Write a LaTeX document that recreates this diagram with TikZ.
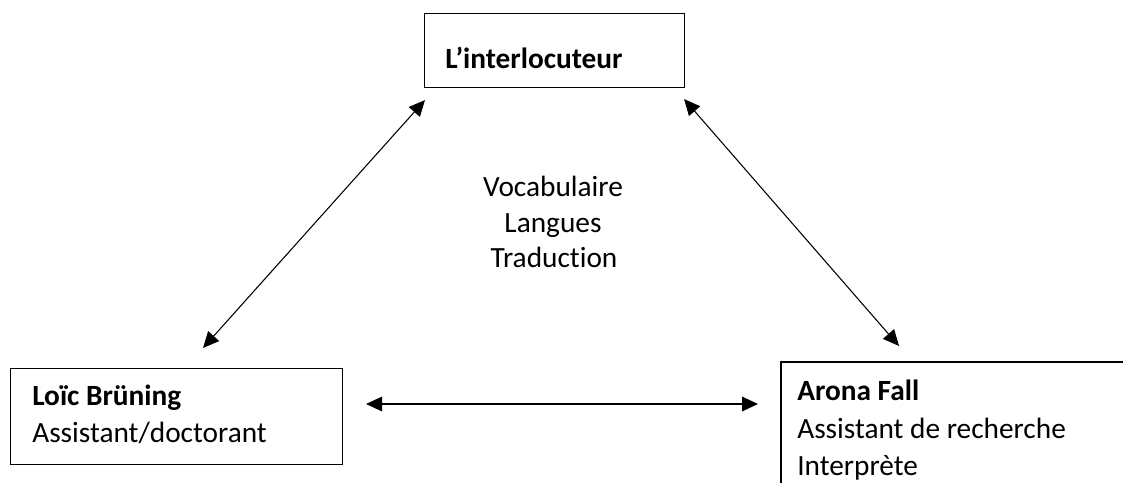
\documentclass[tikz,border=0pt]{standalone}
\usepackage{fontspec}
\setmainfont{Carlito}[Ligatures=NoCommon]
\usetikzlibrary{arrows.meta,calc}
\begin{document}
\begin{tikzpicture}[x=0.75pt,y=-0.75pt,
  boxnode/.style={draw=black,line width=0.8pt,rectangle,inner sep=0pt,anchor=north west},
  txt/.style={anchor=base west,inner sep=0pt,font=\fontsize{22pt}{27pt}\selectfont},
  ctxt/.style={anchor=base,inner sep=0pt,font=\fontsize{22pt}{27pt}\selectfont},
  link/.style={line width=0.8pt,{Triangle[length=12pt,width=11pt]}-{Triangle[length=12pt,width=11pt]}}]
\useasboundingbox (0,0) rectangle (1123,482);
% boxes
\node[boxnode,minimum width=195pt,minimum height=55.5pt] (top) at (424,13) {};
\node[boxnode,minimum width=249pt,minimum height=72pt] (lb) at (10,368) {};
\node[rectangle,inner sep=0pt,anchor=north west,minimum width=256.5pt,minimum height=90pt] (rb) at (781,362) {};
\draw[line width=0.8pt] (rb.north east) -- (rb.north west) -- (rb.south west);
% texts
\node[txt] (ttop) at (445,68) {\bfseries L’interlocuteur};
\node[txt] (tl1) at (32,405) {\bfseries Loïc Brüning};
\node[txt] (tl2) at (32,442) {Assistant/doctorant};
\node[txt] (tr1) at (797,400) {\bfseries Arona Fall};
\node[txt] (tr2) at (797,438) {Assistant de recherche};
\node[txt] (tr3) at (797,475) {Interprète};
\node[ctxt] (m1) at (553,196) {Vocabulaire};
\node[ctxt] (m2) at (553,232) {Langues};
\node[ctxt] (m3) at (554,267) {Traduction};
% arrow ends
\coordinate (a1) at ($(top.south west)+(1,12)$);
\coordinate (a2) at ($(lb.north west)+(193,-20)$);
\coordinate (b1) at ($(top.south east)+(-1,11)$);
\coordinate (b2) at ($(rb.north west)+(118,-16)$);
\coordinate (c1) at ($(lb.north east)+(23,36)$);
\coordinate (c2) at ($(rb.north west)+(-23,42)$);
\draw[link] (a1) -- (a2);
\draw[link] (b1) -- (b2);
\draw[link] (c1) -- (c2);
\end{tikzpicture}
\end{document}
